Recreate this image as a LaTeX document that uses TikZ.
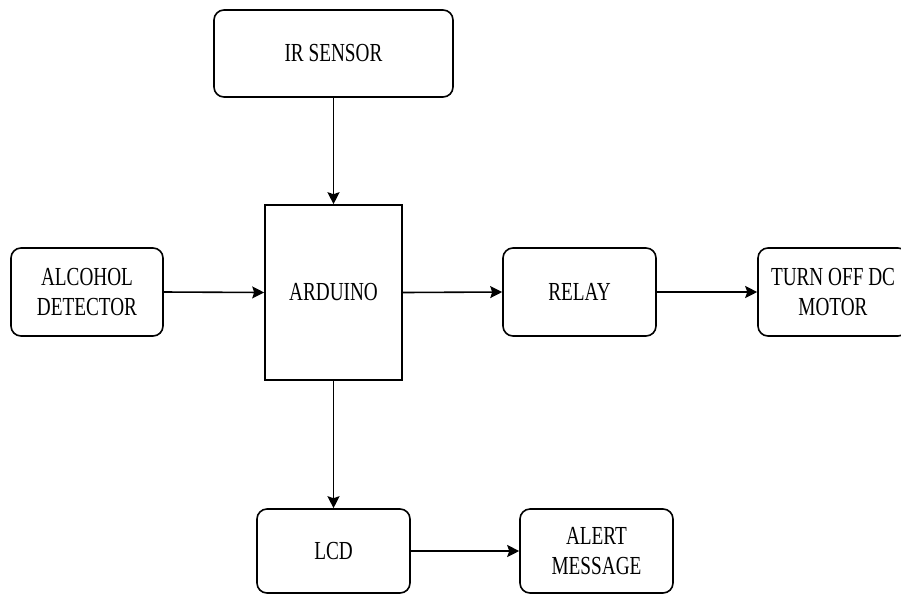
\documentclass[tikz,border=0pt]{standalone}
\usepackage{fontspec}
\setmainfont{Liberation Serif}[FakeStretch=0.74]
\usepackage{tikz}
\usetikzlibrary{arrows.meta, positioning}

\begin{document}
\begin{tikzpicture}[x=1pt, y=-1pt, every node/.style={font=\fontsize{26}{30}\selectfont},
      unit/.style={rectangle, draw, line width=1.6pt, rounded corners=10pt, align=center, inner sep=0pt},
      board/.style={rectangle, draw, line width=1.6pt, align=center, inner sep=0pt},
      link/.style={-{Stealth[length=12pt, width=12pt, inset=2pt]}, line width=1.6pt}]

      \useasboundingbox (0,0) rectangle (901,595);
      \clip (0,0) rectangle (901,595);

      % Blocks
      \node[unit, minimum width=239pt, minimum height=87pt] (ir) at (333.5,53.5) {IR SENSOR};
      \node[board, minimum width=137pt, minimum height=175pt] (arduino) at (333.5,292.5) {ARDUINO};
      \node[unit, minimum width=152pt, minimum height=88pt] (alcohol) at (87,292) {ALCOHOL\\DETECTOR};
      \node[unit, minimum width=153pt, minimum height=88pt] (relay) at (579.5,292) {RELAY};
      \node[unit, minimum width=150pt, minimum height=88pt] (motor) at (833,292) {TURN OFF DC\\MOTOR};
      \node[unit, minimum width=153pt, minimum height=84pt] (lcd) at (333.5,551) {LCD};
      \node[unit, minimum width=153pt, minimum height=84pt] (alert) at (596.5,551) {ALERT\\MESSAGE};

      % Arrows
      \draw[link] (ir.south) -- (arduino.north);
      \draw[link] (alcohol.east) -- (arduino.west);
      \draw[link] (arduino.east) -- (relay.west);
      \draw[link] (relay.east) -- (motor.west);
      \draw[link] (arduino.south) -- (lcd.north);
      \draw[link] (lcd.east) -- (alert.west);
    \end{tikzpicture}
\end{document}
